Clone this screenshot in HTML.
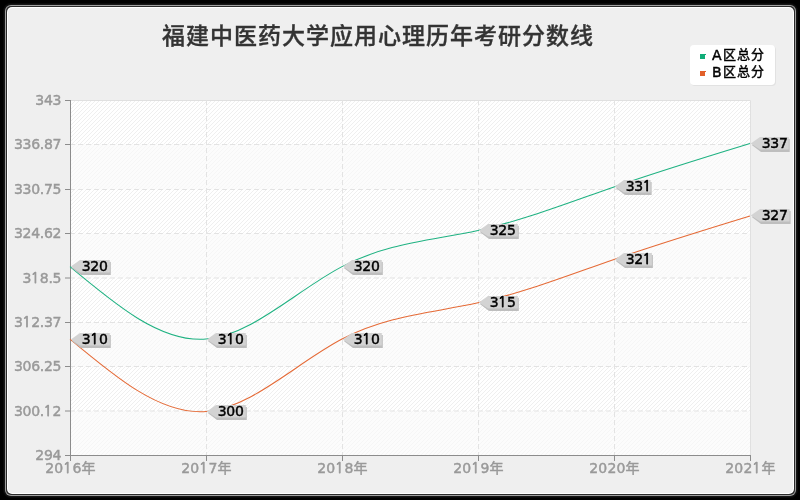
<!DOCTYPE html>
<html><head><meta charset="utf-8"><title>福建中医药大学应用心理历年考研分数线</title>
<style>
svg,.title,.legend{will-change:transform}
html,body{margin:0;padding:0;width:800px;height:500px;overflow:hidden;background:#000}
.frame{position:absolute;left:5px;top:5px;width:791px;height:491px;border-radius:6px;background:#a0a0a0;box-shadow:0 0 0 1px #151515,0 0 0 2px #0a0a0a}
.f2{position:absolute;left:1px;top:1px;right:1px;bottom:1px;border-radius:5px;background:#2a2a2a}
.f3{position:absolute;left:1px;top:1px;right:1px;bottom:1px;border-radius:5px;background:#fff}
.f4{position:absolute;left:1px;top:1px;right:1px;bottom:1px;border-radius:4.5px;background:#efefef}
.ax{font-family:"DejaVu Sans","Noto Sans CJK SC",sans-serif;font-size:14px;letter-spacing:-0.3px;fill:#999999;stroke:#999999;stroke-width:0.45px}
.dl{font-family:"DejaVu Sans",sans-serif;font-size:14px;letter-spacing:-0.3px;fill:#000;stroke:#000;stroke-width:0.45px}
.title{position:absolute;left:162px;top:17px;font-family:"Noto Sans CJK SC",sans-serif;font-weight:500;-webkit-text-stroke:0.35px #333;font-size:23px;letter-spacing:1px;color:#333;white-space:nowrap;line-height:normal}
.legend{position:absolute;left:690px;top:45px;width:85px;height:40px;background:#fff;border-radius:4px;box-shadow:1px 1px 0 #e2e2e2}
.li{position:absolute;left:22px;font-family:"DejaVu Sans","Noto Sans CJK SC",sans-serif;font-size:14px;color:#000;-webkit-text-stroke:0.45px #000;white-space:nowrap;line-height:17px}
.cj{font-family:"Noto Sans CJK SC",sans-serif;font-size:13px;letter-spacing:1px;margin-left:1.5px;position:relative;top:-1px}
.one{font-family:"NanumGothic",sans-serif;stroke-width:0.75px}
.sw{position:absolute;left:10px;width:5px;height:5px}
.sw::after{content:'';position:absolute;left:5px;top:0;width:1px;height:1px;background:inherit}
</style></head><body>
<div class="frame"><div class="f2"><div class="f3"><div class="f4"></div></div></div></div>
<svg width="800" height="500" viewBox="0 0 800 500" style="position:absolute;left:0;top:0"><defs><pattern id="hatch" patternUnits="userSpaceOnUse" width="4" height="4"><rect width="4" height="4" fill="#fff"/><path d="M-1,1 L1,-1 M0,4 L4,0 M3,5 L5,3" stroke="#efefef" stroke-width="1"/></pattern></defs><rect x="70" y="100" width="680" height="355" fill="url(#hatch)"/><rect x="70" y="144.5" width="680" height="45.0" fill="rgb(250,250,250)" fill-opacity="0.6"/><rect x="70" y="233.5" width="680" height="44.5" fill="rgb(250,250,250)" fill-opacity="0.6"/><rect x="70" y="322.5" width="680" height="44.0" fill="rgb(250,250,250)" fill-opacity="0.6"/><rect x="70" y="411" width="680" height="44.5" fill="rgb(250,250,250)" fill-opacity="0.6"/><path d="M70,100.5H750.5V455" fill="none" stroke="#e0e0e0" stroke-width="1"/><path d="M70,144.5H750" stroke="#e3e3e3" stroke-width="1" stroke-dasharray="5,3"/><path d="M70,189.5H750" stroke="#e3e3e3" stroke-width="1" stroke-dasharray="5,3"/><path d="M70,233.5H750" stroke="#e3e3e3" stroke-width="1" stroke-dasharray="5,3"/><path d="M70,278.0H750" stroke="#e3e3e3" stroke-width="1" stroke-dasharray="5,3"/><path d="M70,322.5H750" stroke="#e3e3e3" stroke-width="1" stroke-dasharray="5,3"/><path d="M70,366.5H750" stroke="#e3e3e3" stroke-width="1" stroke-dasharray="5,3"/><path d="M70,411.0H750" stroke="#e3e3e3" stroke-width="1" stroke-dasharray="5,3"/><path d="M206.5,100V455" stroke="#e3e3e3" stroke-width="1" stroke-dasharray="5,3"/><path d="M342.5,100V455" stroke="#e3e3e3" stroke-width="1" stroke-dasharray="5,3"/><path d="M478.5,100V455" stroke="#e3e3e3" stroke-width="1" stroke-dasharray="5,3"/><path d="M614.5,100V455" stroke="#e3e3e3" stroke-width="1" stroke-dasharray="5,3"/><path d="M70.5,100V456" stroke="#8c8c8c" stroke-width="1"/><path d="M70,455.5H751" stroke="#8c8c8c" stroke-width="1"/><path d="M65,100.5H70" stroke="#8c8c8c" stroke-width="1"/><text x="61.2" y="105" text-anchor="end" class="ax">343</text><path d="M65,144.5H70" stroke="#8c8c8c" stroke-width="1"/><text x="61.2" y="149" text-anchor="end" class="ax">336.87</text><path d="M65,189.5H70" stroke="#8c8c8c" stroke-width="1"/><text x="61.2" y="194" text-anchor="end" class="ax">330.75</text><path d="M65,233.5H70" stroke="#8c8c8c" stroke-width="1"/><text x="61.2" y="238" text-anchor="end" class="ax">324.62</text><path d="M65,278.0H70" stroke="#8c8c8c" stroke-width="1"/><text x="61.2" y="283" text-anchor="end" class="ax">3<tspan class="one" dx="-0.4">1</tspan><tspan dx="0.83">8</tspan>.5</text><path d="M65,322.5H70" stroke="#8c8c8c" stroke-width="1"/><text x="61.2" y="327" text-anchor="end" class="ax">3<tspan class="one" dx="-0.4">1</tspan><tspan dx="0.83">2</tspan>.37</text><path d="M65,366.5H70" stroke="#8c8c8c" stroke-width="1"/><text x="61.2" y="371" text-anchor="end" class="ax">306.25</text><path d="M65,411.0H70" stroke="#8c8c8c" stroke-width="1"/><text x="61.2" y="416" text-anchor="end" class="ax">300.<tspan class="one" dx="-0.4">1</tspan><tspan dx="0.83">2</tspan></text><path d="M65,455.5H70" stroke="#8c8c8c" stroke-width="1"/><text x="61.2" y="460" text-anchor="end" class="ax">294</text><path d="M70.5,455V461" stroke="#8c8c8c" stroke-width="1"/><text x="70.5" y="473" text-anchor="middle" class="ax" style="letter-spacing:0.2px">20<tspan class="one" dx="-0.4">1</tspan><tspan dx="0.83">6</tspan>年</text><path d="M206.5,455V461" stroke="#8c8c8c" stroke-width="1"/><text x="206.5" y="473" text-anchor="middle" class="ax" style="letter-spacing:0.2px">20<tspan class="one" dx="-0.4">1</tspan><tspan dx="0.83">7</tspan>年</text><path d="M342.5,455V461" stroke="#8c8c8c" stroke-width="1"/><text x="342.5" y="473" text-anchor="middle" class="ax" style="letter-spacing:0.2px">20<tspan class="one" dx="-0.4">1</tspan><tspan dx="0.83">8</tspan>年</text><path d="M478.5,455V461" stroke="#8c8c8c" stroke-width="1"/><text x="478.5" y="473" text-anchor="middle" class="ax" style="letter-spacing:0.2px">20<tspan class="one" dx="-0.4">1</tspan><tspan dx="0.83">9</tspan>年</text><path d="M614.5,455V461" stroke="#8c8c8c" stroke-width="1"/><text x="614.5" y="473" text-anchor="middle" class="ax" style="letter-spacing:0.2px">2020年</text><path d="M750.5,455V461" stroke="#8c8c8c" stroke-width="1"/><text x="750.5" y="473" text-anchor="middle" class="ax" style="letter-spacing:0.2px">202<tspan class="one" dx="-0.4">1</tspan><tspan dx="0.83">年</tspan></text><path d="M70.00,266.63 C115.33,304.64 160.67,342.64 206.00,339.08 C251.33,335.52 296.67,290.40 342.00,266.63 C387.33,242.86 432.67,240.45 478.00,230.41 C523.33,220.37 568.67,202.70 614.00,186.94 C659.33,171.18 704.67,157.32 750.00,143.47" fill="none" stroke="#1fb282" stroke-width="1.05"/><path d="M70.00,339.08 C115.33,377.09 160.67,415.09 206.00,411.53 C251.33,407.97 296.67,362.85 342.00,339.08 C387.33,315.31 432.67,312.90 478.00,302.86 C523.33,292.82 568.67,275.15 614.00,259.39 C659.33,243.63 704.67,229.77 750.00,215.92" fill="none" stroke="#e56a36" stroke-width="1.05"/><path d="M71.8,268.0 L81.0,262 H110.8 V275.0 H81.0 Z" fill="#bebebe"/><path d="M70.8,266.5 L80.0,260 H109.8 V272.5 H80.0 Z" fill="#d3d3d3"/><text x="81.7" y="271" class="dl">320</text><path d="M207.8,341.0 L217.0,335 H246.8 V348.0 H217.0 Z" fill="#bebebe"/><path d="M206.8,339.5 L216.0,333 H245.8 V345.5 H216.0 Z" fill="#d3d3d3"/><text x="217.7" y="344" class="dl">3<tspan class="one" dx="-0.4">1</tspan><tspan dx="0.83">0</tspan></text><path d="M343.8,268.0 L353.0,262 H382.8 V275.0 H353.0 Z" fill="#bebebe"/><path d="M342.8,266.5 L352.0,260 H381.8 V272.5 H352.0 Z" fill="#d3d3d3"/><text x="353.7" y="271" class="dl">320</text><path d="M479.8,232.0 L489.0,226 H518.8 V239.0 H489.0 Z" fill="#bebebe"/><path d="M478.8,230.5 L488.0,224 H517.8 V236.5 H488.0 Z" fill="#d3d3d3"/><text x="489.7" y="235" class="dl">325</text><path d="M615.8,188.0 L625.0,182 H651.6 V195.0 H625.0 Z" fill="#bebebe"/><path d="M614.8,186.5 L624.0,180 H650.6 V192.5 H624.0 Z" fill="#d3d3d3"/><text x="625.7" y="191" class="dl">33<tspan class="one" dx="-0.4">1</tspan></text><path d="M751.8,145.0 L761.0,139 H789.7 V152.0 H761.0 Z" fill="#bebebe"/><path d="M750.8,143.5 L760.0,137 H788.7 V149.5 H760.0 Z" fill="#d3d3d3"/><text x="761.7" y="148" class="dl">337</text><path d="M71.8,341.0 L81.0,335 H110.8 V348.0 H81.0 Z" fill="#bebebe"/><path d="M70.8,339.5 L80.0,333 H109.8 V345.5 H80.0 Z" fill="#d3d3d3"/><text x="81.7" y="344" class="dl">3<tspan class="one" dx="-0.4">1</tspan><tspan dx="0.83">0</tspan></text><path d="M207.8,413.0 L217.0,407 H246.8 V420.0 H217.0 Z" fill="#bebebe"/><path d="M206.8,411.5 L216.0,405 H245.8 V417.5 H216.0 Z" fill="#d3d3d3"/><text x="217.7" y="416" class="dl">300</text><path d="M343.8,341.0 L353.0,335 H382.8 V348.0 H353.0 Z" fill="#bebebe"/><path d="M342.8,339.5 L352.0,333 H381.8 V345.5 H352.0 Z" fill="#d3d3d3"/><text x="353.7" y="344" class="dl">3<tspan class="one" dx="-0.4">1</tspan><tspan dx="0.83">0</tspan></text><path d="M479.8,304.0 L489.0,298 H518.8 V311.0 H489.0 Z" fill="#bebebe"/><path d="M478.8,302.5 L488.0,296 H517.8 V308.5 H488.0 Z" fill="#d3d3d3"/><text x="489.7" y="307" class="dl">3<tspan class="one" dx="-0.4">1</tspan><tspan dx="0.83">5</tspan></text><path d="M615.8,261.0 L625.0,255 H652.9 V268.0 H625.0 Z" fill="#bebebe"/><path d="M614.8,259.5 L624.0,253 H651.9 V265.5 H624.0 Z" fill="#d3d3d3"/><text x="625.7" y="264" class="dl">32<tspan class="one" dx="-0.4">1</tspan></text><path d="M751.8,217.0 L761.0,211 H790.6 V224.0 H761.0 Z" fill="#bebebe"/><path d="M750.8,215.5 L760.0,209 H789.6 V221.5 H760.0 Z" fill="#d3d3d3"/><text x="761.7" y="220" class="dl">327</text></svg>
<div class="title">福建中医药大学应用心理历年考研分数线</div>
<div class="legend">
<div class="sw" style="top:9px;background:#10ad78"></div><div class="li" style="top:1px">A<span class="cj">区总分</span></div>
<div class="sw" style="top:26px;background:#e2602a"></div><div class="li" style="top:18px">B<span class="cj">区总分</span></div>
</div>
</body></html>
